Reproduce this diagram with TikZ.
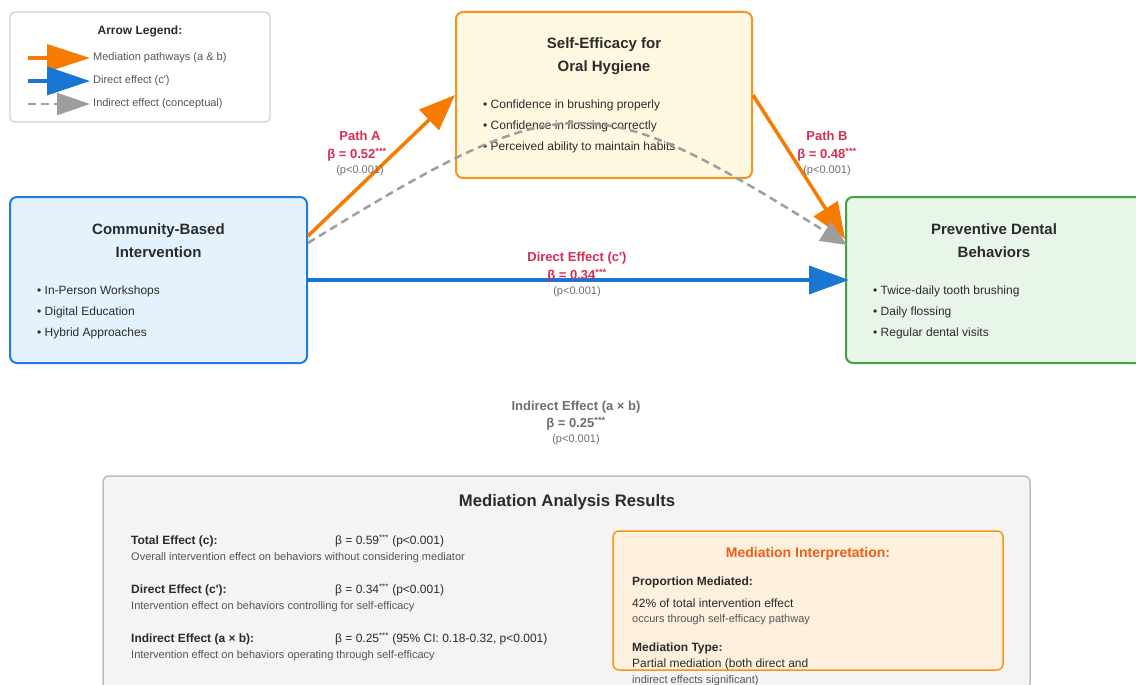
\documentclass[tikz,border=0pt]{standalone}
\usepackage{fontspec}
\setmainfont{Liberation Sans}
\usetikzlibrary{arrows.meta}
\definecolor{ink}{HTML}{2B2B2B}
\definecolor{soft}{HTML}{555555}
\definecolor{pgray}{HTML}{6E6E6E}
\definecolor{labred}{HTML}{D42E52}
\definecolor{orarrow}{HTML}{F57C00}
\definecolor{bluarrow}{HTML}{1976D2}
\definecolor{grarrow}{HTML}{9E9E9E}
\definecolor{sefill}{HTML}{FFF8E1}
\definecolor{sedraw}{HTML}{F7931E}
\definecolor{cofill}{HTML}{E3F2FD}
\definecolor{codraw}{HTML}{1E7FDB}
\definecolor{prfill}{HTML}{E8F5E9}
\definecolor{prdraw}{HTML}{43A047}
\definecolor{resfill}{HTML}{F4F4F4}
\definecolor{resdraw}{HTML}{BDBDBD}
\definecolor{infill}{HTML}{FFF0DE}
\definecolor{intitle}{HTML}{E8601C}
\begin{document}
\begin{tikzpicture}[x=1pt,y=-1pt,line join=round,
		box/.style={draw,rounded corners=7pt,line width=2pt,inner sep=0pt},
		ttl/.style={inner sep=0pt,text=ink,align=center,font=\fontsize{15}{23}\selectfont\bfseries},
		bul/.style={anchor=west,inner sep=0pt,text=ink,font=\fontsize{12}{14}\selectfont},
		lab/.style={inner sep=0pt,text=labred,font=\fontsize{13}{15}\selectfont\bfseries},
		pval/.style={inner sep=0pt,text=pgray,font=\fontsize{11}{13}\selectfont},
		rowhead/.style={anchor=west,inner sep=0pt,text=ink,font=\fontsize{12}{14}\selectfont\bfseries},
		rowval/.style={anchor=west,inner sep=0pt,text=ink,font=\fontsize{12}{14}\selectfont},
		rowdesc/.style={anchor=west,inner sep=0pt,text=soft,font=\fontsize{11}{13}\selectfont},
		leg/.style={anchor=west,inner sep=0pt,text=soft,font=\fontsize{11}{13}\selectfont},
		oarrow/.style={draw=orarrow,line width=3.5pt,-{Triangle[length=36pt,width=28pt]}},
		barrow/.style={draw=bluarrow,line width=3.5pt,-{Triangle[length=40pt,width=28pt]}},
		garrow/.style={draw=grarrow,line width=2.5pt,dash pattern=on 8pt off 5pt,-{Triangle[length=26pt,width=22pt]}}
	]
	\useasboundingbox[fill=white] (0,0) rectangle (1136,685);
	% legend
	\node[box,draw=black!18,fill=white,line width=1.3pt,rounded corners=5pt,minimum width=260pt,minimum height=110pt] (legend) at (140,67) {};
	\node[inner sep=0pt,text=ink,font=\fontsize{12}{14}\selectfont\bfseries] (legT) at (140,31) {Arrow Legend:};
	\coordinate (lo1) at (28,58); \coordinate (lo2) at (90,58);
	\coordinate (lb1) at (28,81); \coordinate (lb2) at (90,81);
	\coordinate (lg1) at (28,104); \coordinate (lg2) at (90,104);
	\draw[oarrow,-{Triangle[length=43pt,width=27pt]}] (lo1) -- (lo2);
	\draw[barrow,-{Triangle[length=43pt,width=28pt]}] (lb1) -- (lb2);
	\draw[garrow,-{Triangle[length=33pt,width=22pt]}] (lg1) -- (lg2);
	\node[leg] (legO) at (93,58) {Mediation pathways (a \& b)};
	\node[leg] (legB) at (93,81) {Direct effect (c\textquotesingle)};
	\node[leg] (legG) at (93,104) {Indirect effect (conceptual)};
	% the three variables
	\node[box,draw=sedraw,fill=sefill,minimum width=296pt,minimum height=166pt] (selfeff) at (604,95) {};
	\node[box,draw=codraw,fill=cofill,minimum width=297pt,minimum height=166pt] (comm) at (158.5,280) {};
	\node[box,draw=prdraw,fill=prfill,minimum width=297pt,minimum height=166pt] (prev) at (994.5,280) {};
	\node[ttl] (seT) at (604,56) {Self-Efficacy for\\Oral Hygiene};
	\node[bul] (se1) at (483,105) {\textbullet\ Confidence in brushing properly};
	\node[bul] (se2) at (483,126) {\textbullet\ Confidence in flossing correctly};
	\node[bul] (se3) at (483,147) {\textbullet\ Perceived ability to maintain habits};
	\node[ttl] (coT) at (158.5,241) {Community-Based\\Intervention};
	\node[bul] (co1) at (37,291) {\textbullet\ In-Person Workshops};
	\node[bul] (co2) at (37,312) {\textbullet\ Digital Education};
	\node[bul] (co3) at (37,333) {\textbullet\ Hybrid Approaches};
	\node[ttl] (prT) at (994,241) {Preventive Dental\\Behaviors};
	\node[bul] (pr1) at (873,291) {\textbullet\ Twice-daily tooth brushing};
	\node[bul] (pr2) at (873,312) {\textbullet\ Daily flossing};
	\node[bul] (pr3) at (873,333) {\textbullet\ Regular dental visits};
	% paths
	\draw[oarrow] ([yshift=44pt]comm.east) -- (selfeff.west);
	\draw[oarrow] (selfeff.east) -- ([yshift=41pt]prev.west);
	\draw[barrow] (comm.east) -- ([xshift=4pt]prev.west);
	\draw[garrow] ([yshift=37pt]comm.east) .. controls (565,85) and (590,85) .. ([yshift=35pt,xshift=2pt]prev.west);
	% coefficients
	\node[lab] (aT) at (360,136) {Path A};
	\node[lab] (aB) at (357,155) {β = 0.52\textsuperscript{***}};
	\node[pval] (aP) at (360,171) {(p<0.001)};
	\node[lab] (bT) at (827,136) {Path B};
	\node[lab] (bB) at (827,155) {β = 0.48\textsuperscript{***}};
	\node[pval] (bP) at (827,171) {(p<0.001)};
	\node[lab] (cT) at (577,258) {Direct Effect (c\textquotesingle)};
	\node[lab] (cB) at (577,276) {β = 0.34\textsuperscript{***}};
	\node[pval] (cP) at (577,292) {(p<0.001)};
	\node[lab,text=pgray] (abT) at (576,407) {Indirect Effect (a × b)};
	\node[lab,text=pgray] (abB) at (576,424) {β = 0.25\textsuperscript{***}};
	\node[pval] (abP) at (576,440) {(p<0.001)};
	% results panel
	\node[box,draw=resdraw,fill=resfill,line width=1.5pt,rounded corners=6pt,minimum width=927pt,minimum height=214pt] (results) at (566.5,583) {};
	\node[inner sep=0pt,text=ink,font=\fontsize{16.7}{19}\selectfont\bfseries] (resT) at (567,502) {Mediation Analysis Results};
	\node[rowhead] (r1h) at (131,541) {Total Effect (c):};
	\node[rowval] (r1v) at (335,541) {β = 0.59\textsuperscript{***} (p<0.001)};
	\node[rowdesc] (r1d) at (131,558) {Overall intervention effect on behaviors without considering mediator};
	\node[rowhead] (r2h) at (131,590) {Direct Effect (c\textquotesingle):};
	\node[rowval] (r2v) at (335,590) {β = 0.34\textsuperscript{***} (p<0.001)};
	\node[rowdesc] (r2d) at (131,607) {Intervention effect on behaviors controlling for self-efficacy};
	\node[rowhead] (r3h) at (131,639) {Indirect Effect (a × b):};
	\node[rowval] (r3v) at (335,639) {β = 0.25\textsuperscript{***} (95\% CI: 0.18-0.32, p<0.001)};
	\node[rowdesc] (r3d) at (131,656) {Intervention effect on behaviors operating through self-efficacy};
	\node[box,draw=sedraw,fill=infill,line width=1.5pt,rounded corners=6pt,minimum width=390pt,minimum height=139pt] (interp) at (808,600.5) {};
	\node[inner sep=0pt,text=intitle,font=\fontsize{14}{16}\selectfont\bfseries] (inT) at (808,554) {Mediation Interpretation:};
	\node[rowhead] (in1) at (632,582) {Proportion Mediated:};
	\node[rowval] (in2) at (632,603) {42\% of total intervention effect};
	\node[rowdesc] (in3) at (632,620) {occurs through self-efficacy pathway};
	\node[rowhead] (in4) at (632,648) {Mediation Type:};
	\node[rowval] (in5) at (632,664) {Partial mediation (both direct and};
	\node[rowdesc] (in6) at (632,681) {indirect effects significant)};
\end{tikzpicture}
\end{document}
